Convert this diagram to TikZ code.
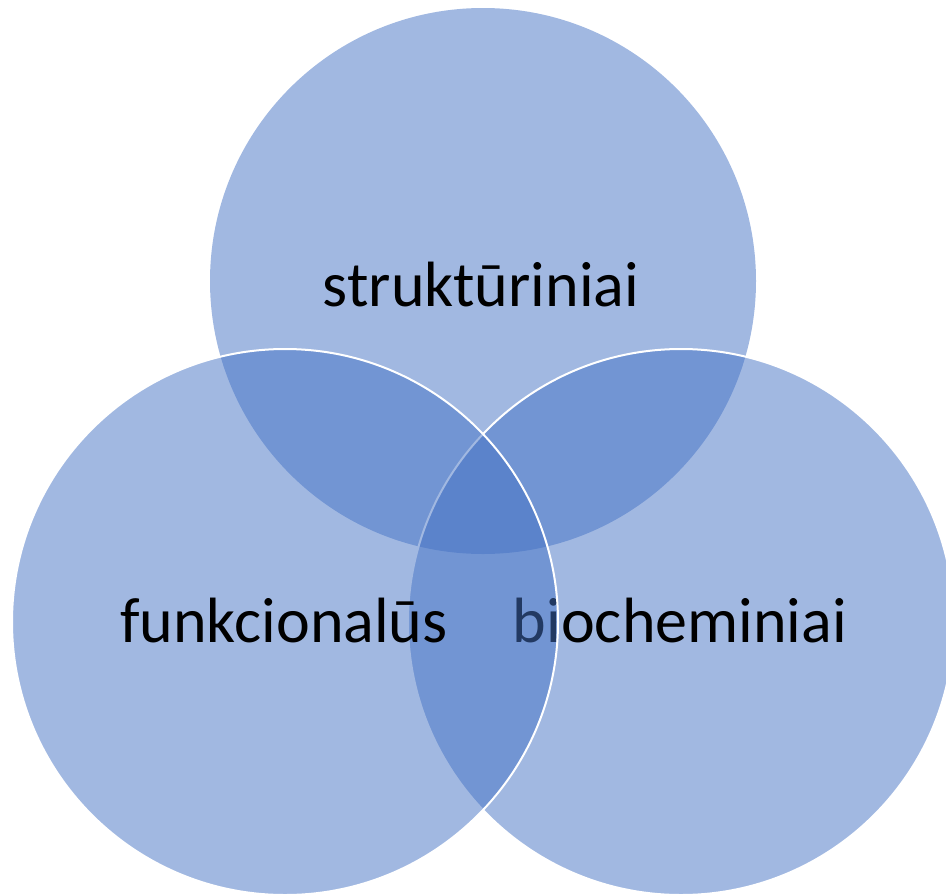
\documentclass[tikz,border=0pt]{standalone}
\usepackage{fontspec}
\setmainfont{Carlito}
\definecolor{accent}{HTML}{4472C4}
\tikzset{
  venn/.style={fill=accent,fill opacity=0.5},
  vennline/.style={draw=white,line width=2pt,draw opacity=1},
  lbl/.style={anchor=base,font=\fontsize{64}{70}\selectfont,text=black,inner sep=0pt,text opacity=1}
}
\begin{document}
\begin{tikzpicture}[x=1pt,y=-1pt]
\useasboundingbox (0,0) rectangle (946,895);
\clip (0,0) rectangle (946,895);
% top circle
\fill[venn] (483,281) circle (273);
\node[lbl] (ttop) at (481,306.7) {struktūriniai};
% right circle
\path[venn,vennline] (681,622) circle (273);
\node[lbl] (tright) at (680,642.5) {biocheminiai};
% left circle
\path[venn,vennline] (285,622) circle (273);
\node[lbl] (tleft) at (284,642.5) {funkcionalūs};
\end{tikzpicture}
\end{document}
